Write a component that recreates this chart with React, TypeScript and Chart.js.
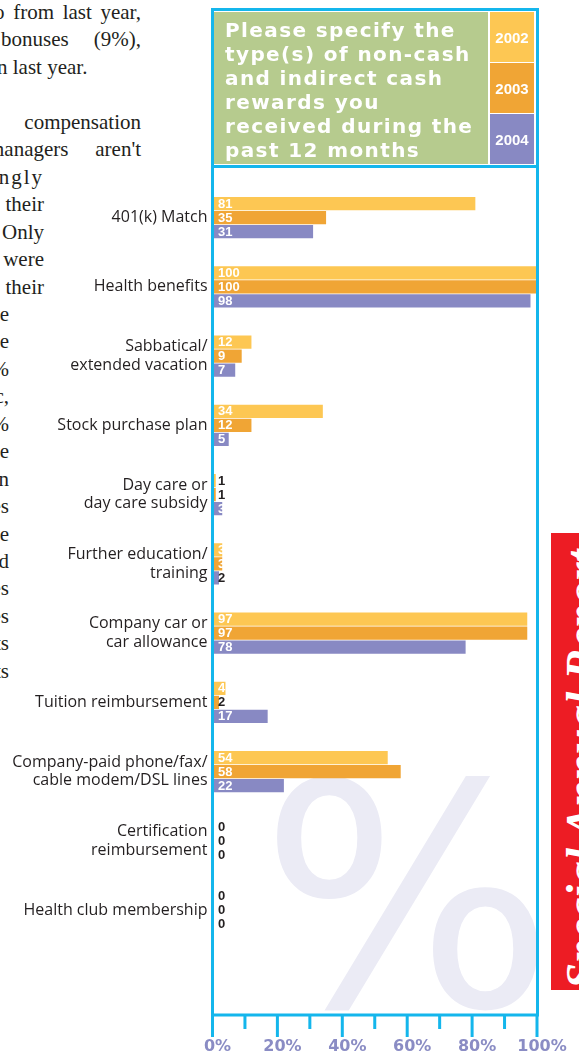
import React, { useEffect, useRef } from 'react';
import { Chart, registerables } from 'chart.js';

Chart.register(...registerables);

// ---------- data ----------
const categories: (string | string[])[] = [
  '401(k) Match',
  'Health benefits',
  ['Sabbatical/', 'extended vacation'],
  'Stock purchase plan',
  ['Day care or', 'day care subsidy'],
  ['Further education/', 'training'],
  ['Company car or', 'car allowance'],
  'Tuition reimbursement',
  ['Company-paid phone/fax/', 'cable modem/DSL lines'],
  ['Certification', 'reimbursement'],
  'Health club membership',
];
const years = ['2002', '2003', '2004'];
const values2002 = [81, 100, 12, 34, 1, 3, 97, 4, 54, 0, 0];
const values2003 = [35, 100, 9, 12, 1, 3, 97, 2, 58, 0, 0];
const values2004 = [31, 98, 7, 5, 3, 2, 78, 17, 22, 0, 0];
const xTickLabels = ['0%', '20%', '40%', '60%', '80%', '100%'];
const questionLines = [
  'Please specify the',
  'type(s) of non-cash',
  'and indirect cash',
  'rewards you',
  'received during the',
  'past 12 months',
];
const bodyTextLines = [
  'o from last year,',
  'bonuses (9%),',
  'n last year.',
  '',
  'compensation',
  "managers aren't",
  'ngly',
  'their',
  'Only',
  'were',
  'their',
  'e',
  'e',
  '%',
  'c,',
  '%',
  'e',
  'n',
  'es',
  'e',
  'd',
  'es',
  'es',
  'ts',
  'ts',
];
const bannerText = 'Special Annual Report';

// ---------- styles ----------
const COLORS = ['#FDC753', '#F0A535', '#8889C3'];
const FRAME = '#14B6EC';
const GREEN = '#B6CB8E';
const TICK_LABEL = '#8A8CC4';
const TEXT = '#231F20';

const watermarkPlugin = {
  id: 'watermark',
  beforeDatasetsDraw(chart: any) {
    const { ctx, chartArea } = chart;
    ctx.save();
    ctx.beginPath();
    ctx.rect(chartArea.left, chartArea.top, chartArea.right - chartArea.left, chartArea.bottom - chartArea.top);
    ctx.clip();
    ctx.fillStyle = '#EBEBF5';
    ctx.font = '310px "DejaVu Sans", sans-serif';
    ctx.textBaseline = 'alphabetic';
    ctx.textAlign = 'left';
    ctx.fillText('%', 260, 1006);
    ctx.restore();
  },
};

const valueLabelPlugin = {
  id: 'valueLabels',
  afterDatasetsDraw(chart: any) {
    const { ctx, chartArea } = chart;
    ctx.save();
    ctx.font = 'bold 13px "Liberation Sans", Arial, sans-serif';
    ctx.textBaseline = 'middle';
    ctx.textAlign = 'left';
    chart.data.datasets.forEach((ds: any, di: number) => {
      const meta = chart.getDatasetMeta(di);
      meta.data.forEach((bar: any, i: number) => {
        const v = ds.data[i];
        if (v === undefined || v === null) return;
        ctx.fillStyle = v >= 3 ? '#FFFFFF' : TEXT;
        ctx.fillText(String(v), chartArea.left + 5.5, bar.y + 0.5);
      });
    });
    ctx.restore();
  },
};

const framePlugin = {
  id: 'frame',
  afterDraw(chart: any) {
    const { ctx, chartArea } = chart;
    const x = chart.scales.x;
    ctx.save();
    ctx.strokeStyle = FRAME;
    ctx.lineWidth = 3;
    ctx.lineCap = 'butt';
    const L = chartArea.left;
    const R = chartArea.right;
    const B = chartArea.bottom + 1;
    ctx.beginPath();
    ctx.moveTo(L, 9.5);
    ctx.lineTo(L, B);
    ctx.moveTo(R + 0.5, 9.5);
    ctx.lineTo(R + 0.5, B);
    ctx.moveTo(L - 1.5, 9.5);
    ctx.lineTo(R + 2, 9.5);
    ctx.moveTo(L - 1.5, 166.5);
    ctx.lineTo(R + 2, 166.5);
    ctx.moveTo(L - 1.5, B);
    ctx.lineTo(R + 2, B);
    ctx.stroke();
    ctx.beginPath();
    for (let v = 0; v <= 100; v += 10) {
      const px = Math.min(x.getPixelForValue(v), R + 0.5);
      ctx.moveTo(px, B);
      ctx.lineTo(px, v % 20 === 0 ? B + 22 : B + 14);
    }
    ctx.stroke();
    ctx.restore();
  },
};

function ChartCanvas() {
  const ref = useRef<HTMLCanvasElement | null>(null);
  useEffect(() => {
    if (!ref.current) return;
    const chart = new Chart(ref.current, {
      type: 'bar',
      data: {
        labels: [...categories, ''],
        datasets: [
          { label: years[0], data: values2002, backgroundColor: COLORS[0] },
          { label: years[1], data: values2003, backgroundColor: COLORS[1] },
          { label: years[2], data: values2004, backgroundColor: COLORS[2] },
        ],
      },
      options: {
        indexAxis: 'y',
        responsive: false,
        animation: false,
        devicePixelRatio: 1,
        layout: { padding: { top: 183, right: 42, left: 0, bottom: 0 } },
        datasets: {
          bar: { categoryPercentage: 0.6065, barPercentage: 0.93, borderWidth: 0 },
        } as any,
        plugins: {
          legend: { display: false },
          tooltip: { enabled: false },
          title: { display: false },
        },
        scales: {
          x: {
            type: 'linear',
            min: 0,
            max: 100,
            position: 'bottom',
            grid: { display: false, drawTicks: false },
            border: { display: false },
            ticks: {
              stepSize: 10,
              autoSkip: false,
              maxRotation: 0,
              padding: 23,
              labelOffset: 5,
              color: TICK_LABEL,
              font: { family: '"DejaVu Sans", sans-serif', weight: 'bold', size: 16 },
              callback: (v: any) => (Number(v) % 20 === 0 ? xTickLabels[Number(v) / 20] : ''),
            },
            afterFit: (s: any) => {
              s.height = 39;
              s.paddingLeft = 0;
              s.paddingRight = 0;
            },
          },
          y: {
            type: 'category',
            grid: { display: false, drawTicks: false },
            border: { display: false },
            ticks: {
              autoSkip: false,
              padding: 5,
              color: TEXT,
              font: { family: '"Open Sans", sans-serif', size: 16, lineHeight: 1.15 },
            },
            afterFit: (s: any) => {
              s.width = 212.5;
            },
          },
        },
      },
      plugins: [watermarkPlugin, valueLabelPlugin, framePlugin],
    } as any);
    return () => chart.destroy();
  }, []);
  return (
    <canvas
      ref={ref}
      width={579}
      height={1053}
      style={{ position: 'absolute', left: 0, top: 0, width: 579, height: 1053 }}
    />
  );
}

function bodyLineStyle(i: number): React.CSSProperties {
  const base: React.CSSProperties = { position: 'absolute', top: i * 27.45, whiteSpace: 'nowrap' };
  if (i === 0) return { ...base, left: -6, width: 147, textAlign: 'justify', textAlignLast: 'justify' } as any;
  if (i === 1) return { ...base, left: 1, width: 140, textAlign: 'justify', textAlignLast: 'justify' } as any;
  if (i === 2) return { ...base, left: -3 };
  if (i === 4) return { ...base, right: 579 - 141 };
  if (i === 5) return { ...base, left: -12, width: 153, textAlign: 'justify', textAlignLast: 'justify', whiteSpace: 'normal' } as any;
  if (i === 6) return { ...base, right: 579 - 44, letterSpacing: 2 };
  if (i >= 7 && i <= 10) return { ...base, right: 579 - 44 };
  return { ...base, right: 579 - 9 };
}

export default function App() {
  return (
    <div
      style={{
        position: 'absolute',
        left: 0,
        top: 0,
        width: 579,
        height: 1053,
        overflow: 'hidden',
        background: '#FFFFFF',
      }}
    >
      <div
        style={{
          position: 'absolute',
          left: 0,
          top: -1,
          width: 579,
          fontFamily: '"Liberation Serif", "Times New Roman", serif',
          fontSize: 21,
          lineHeight: '27.45px',
          color: TEXT,
        }}
      >
        {bodyTextLines.map((t, i) => (
          <div key={i} style={bodyLineStyle(i)}>
            {t}
          </div>
        ))}
      </div>

      <ChartCanvas />

      <div
        style={{
          position: 'absolute',
          left: 214,
          top: 12,
          width: 274,
          height: 152,
          background: GREEN,
        }}
      >
        <div
          style={{
            position: 'absolute',
            left: 11,
            top: 6,
            color: '#FFFFFF',
            fontFamily: '"DejaVu Sans", sans-serif',
            fontWeight: 'bold',
            fontSize: 20,
            letterSpacing: 1.4,
            lineHeight: '24px',
            whiteSpace: 'nowrap',
          }}
        >
          {questionLines.map((l, i) => (
            <div key={i}>{l}</div>
          ))}
        </div>
      </div>
      {years.map((y, i) => (
        <div
          key={y}
          style={{
            position: 'absolute',
            left: 490,
            top: 12 + i * 51,
            width: 44,
            height: 50,
            background: COLORS[i],
            color: '#FFFFFF',
            fontFamily: '"Liberation Sans", Arial, sans-serif',
            fontWeight: 'bold',
            fontSize: 15,
            display: 'flex',
            alignItems: 'center',
            justifyContent: 'center',
          }}
        >
          {y}
        </div>
      ))}

      <div
        style={{
          position: 'absolute',
          left: 551,
          top: 533,
          width: 40,
          height: 457,
          background: '#ED1C24',
        }}
      >
        <div
          style={{
            position: 'absolute',
            left: 8,
            top: 4,
            width: 47,
            height: 452,
            writingMode: 'vertical-rl',
            transform: 'rotate(180deg)',
            color: '#FFFFFF',
            fontFamily: '"Liberation Serif", "Times New Roman", serif',
            fontWeight: 'bold',
            fontStyle: 'italic',
            fontSize: 47,
            lineHeight: '47px',
            whiteSpace: 'nowrap',
          }}
        >
          {bannerText}
        </div>
      </div>
    </div>
  );
}
